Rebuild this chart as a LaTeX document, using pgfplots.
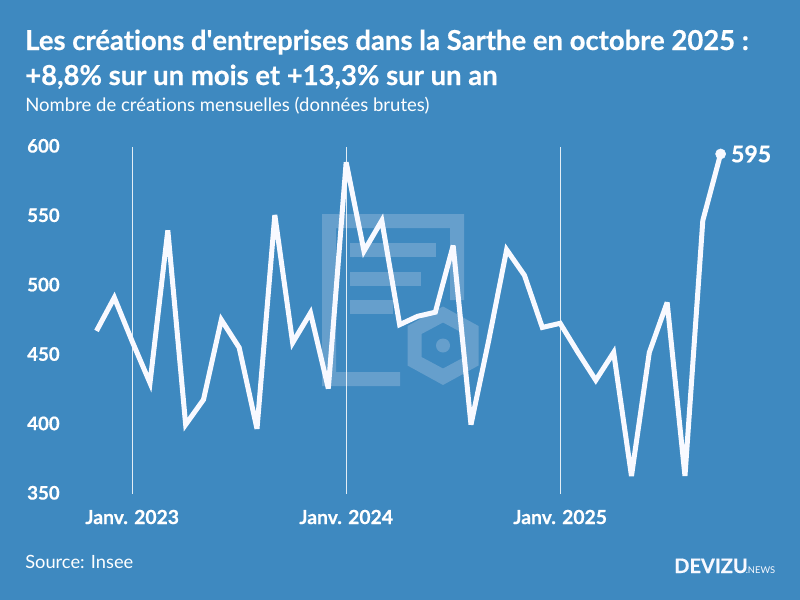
\documentclass[border=0pt]{standalone}
\usepackage{fontspec}
\setmainfont{Lato}[Ligatures=NoCommon,BoldFeatures={FakeBold=0.5}]
\usepackage{pgfplots}
\pgfplotsset{compat=1.18}
\definecolor{bg}{HTML}{3E89C0}
\definecolor{wm}{HTML}{669FCC}
\definecolor{ln}{HTML}{F8F9FF}
\begin{document}
\begin{tikzpicture}
  \begin{scope}[x=0.75pt,y=-0.75pt]
  \useasboundingbox (0,0) rectangle (800,600);
  \fill[bg] (0,0) rectangle (800,600);
  %% watermark behind the curve
  \fill[wm] (322,214) -- (464,214) -- (464,300) -- (450,300) -- (450,228) -- (336,228) -- (336,372) -- (400,372) -- (400,386) -- (322,386) -- cycle;
  \fill[wm] (350,243) rectangle (436,257);
  \fill[wm] (350,271.5) rectangle (421,285.5);
  \fill[wm] (350,300) rectangle (393,314);
  \fill[wm,even odd rule] (443,306.5) -- (478.5,326) -- (478.5,365.5) -- (443,385) -- (407.5,365.5) -- (407.5,326) -- cycle
     (443,322.5) -- (421.5,334) -- (421.5,357) -- (443,368.5) -- (464.5,357) -- (464.5,334) -- cycle;
  \fill[wm] (443,345.5) circle (7);
  %% titles
  \node[anchor=base west,inner sep=0pt,text=white,font=\fontsize{20.6pt}{24pt}\selectfont\bfseries] at (25,50) {Les créations d\textquotesingle entreprises dans la Sarthe en octobre 2025 :};
  \node[anchor=base west,inner sep=0pt,text=white,font=\fontsize{20.6pt}{24pt}\selectfont\bfseries] at (25,85) {+8,8\% sur un mois et +13,3\% sur un an};
  \node[anchor=base west,inner sep=0pt,text=white,font=\fontsize{13.9pt}{16pt}\selectfont] at (25,111) {Nombre de créations mensuelles (données brutes)};
  \node[anchor=base west,inner sep=0pt,text=white,font=\fontsize{13.7pt}{16pt}\selectfont] at (25,568) {Source: Insee};
  \node[anchor=base west,inner sep=0pt,text=ln,font=\fontsize{15pt}{16pt}\selectfont\bfseries] at (674,573) {DEVIZU};
  \node[anchor=base west,inner sep=0pt,text=ln,font=\fontsize{7pt}{9pt}\selectfont] at (745.5,573.5) {.NEWS};
  \end{scope}
  \begin{axis}[
      at={(59pt,-370.5pt)},anchor=south west,
      scale only axis,
      width=521.6pt,
      height=260.25pt,
      xmin=-3,xmax=36,
      ymin=350,ymax=600,
      axis line style={draw=none},
      major tick length=0pt,
      clip=false,
      xtick={0,12,24},
      xticklabels={Janv. 2023,Janv. 2024,Janv. 2025},
      ytick={350,400,450,500,550,600},
      xmajorgrids,
      major grid style={draw=white,line width=0.75pt,opacity=0.85},
      /pgf/number format/assume math mode=true,
      xticklabel style={text=white,font=\fontsize{14.5pt}{16pt}\selectfont\bfseries,anchor=base,yshift=-22.5pt},
      yticklabel style={text=white,font=\fontsize{14pt}{16pt}\selectfont\bfseries,anchor=east,xshift=-10.7pt,yshift=0.9pt},
    ]
    %% creations per month, x = months from Jan 2023
    \addplot[color=ln,line width=3.75pt,miter limit=4,line join=miter] coordinates{
      (-2,467.5) (-1,491.5) (0,460) (1,430) (2,540) (3,400) (4,418) (5,475.5) (6,455.5)
      (7,397) (8,551) (9,459) (10,480.5) (11,426) (12,589) (13,525) (14,547)
      (15,472) (16,478) (17,481) (18,529) (19,400) (20,461) (21,526) (22,507.5)
      (23,470) (24,473) (25,452) (26,432) (27,452) (28,363) (29,452) (30,488)
      (31,363) (32,547) (33,595)
    };
    \addplot[only marks,mark=*,mark size=3.8pt,color=ln] coordinates{(33,595)};
    \node[anchor=west,text=white,font=\fontsize{17.3pt}{20pt}\selectfont\bfseries,inner sep=0pt,xshift=7.6pt] at (axis cs:33,595) {595};
  \end{axis}
\end{tikzpicture}
\end{document}
